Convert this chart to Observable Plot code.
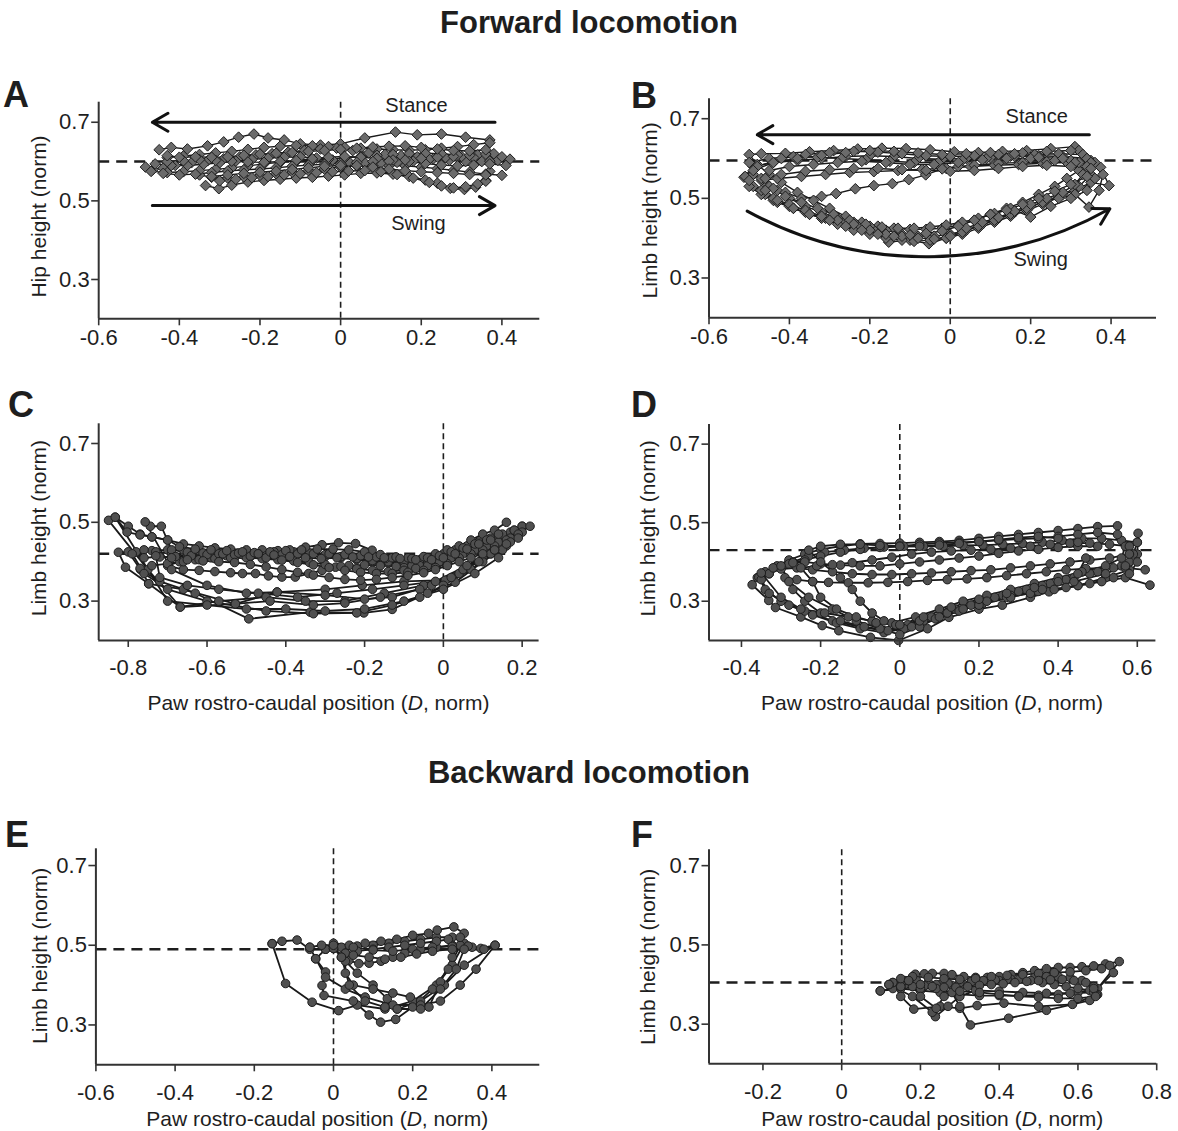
<!DOCTYPE html>
<html><head><meta charset="utf-8">
<script src="https://cdn.jsdelivr.net/npm/d3@7"></script>
<script src="https://cdn.jsdelivr.net/npm/@observablehq/plot@0.6"></script>
<style>
body{margin:0;background:#fff;}
#page{position:relative;width:1178px;height:1131px;overflow:hidden;font-family:Arial,"Liberation Sans",Helvetica,sans-serif;color:#1e1e1e;}
.title{position:absolute;left:0;width:1178px;text-align:center;font-weight:bold;font-size:31px;line-height:31px;}
.letter{position:absolute;font-weight:bold;font-size:36px;line-height:36px;}
.panel{position:absolute;}
</style></head><body>
<div id="page">
<div class="title" style="top:7px">Forward locomotion</div>
<div class="title" style="top:757px">Backward locomotion</div>
</div>
<script>
// ---------- DATA ----------
// each trace: flat list x0,y0,x1,y1,...
const tracesA = [
 [0.37,0.655,0.31,0.662,0.25,0.67,0.19,0.668,0.136,0.675,0.06,0.66,0.0,0.645,-0.05,0.642,-0.1,0.645,-0.14,0.655,-0.18,0.66,-0.215,0.67,-0.253,0.662,-0.29,0.65,-0.33,0.64,-0.38,0.632,-0.42,0.636,-0.45,0.63],
 [-0.484,0.586,-0.465,0.58,-0.44,0.583,-0.41,0.59,-0.37,0.597,-0.33,0.602,-0.29,0.607,-0.25,0.612,-0.21,0.617,-0.17,0.62,-0.13,0.624,-0.09,0.628,-0.05,0.632,-0.01,0.634,0.03,0.628,0.07,0.622,0.11,0.618,0.15,0.615,0.19,0.612,0.23,0.607,0.27,0.603,0.31,0.6,0.35,0.6,0.39,0.603,0.42,0.606],
 [-0.335,0.539,-0.302,0.531,-0.27,0.54,-0.23,0.548,-0.19,0.552,-0.15,0.555,-0.11,0.558,-0.07,0.56,-0.03,0.563,0.01,0.566,0.05,0.57,0.09,0.571,0.13,0.568,0.17,0.562,0.21,0.553,0.24,0.545,0.272,0.532,0.307,0.529,0.335,0.535,0.36,0.552,0.37,0.575],
 [0.4,0.565,0.36,0.568,0.32,0.573,0.28,0.578,0.24,0.582,0.2,0.586,0.16,0.589,0.12,0.59,0.08,0.59,0.04,0.589,0.0,0.586,-0.04,0.581,-0.08,0.577,-0.12,0.573,-0.16,0.569,-0.2,0.565,-0.24,0.561,-0.28,0.558,-0.32,0.56,-0.35,0.566],
 [-0.43,0.61,-0.39,0.614,-0.35,0.618,-0.31,0.622,-0.27,0.626,-0.23,0.631,-0.19,0.636,-0.15,0.639,-0.11,0.641,-0.07,0.64,-0.03,0.638,0.01,0.636,0.05,0.634,0.09,0.632,0.13,0.63,0.17,0.629,0.21,0.63,0.25,0.634,0.29,0.638,0.33,0.643,0.37,0.648],
 [0.38,0.62,0.34,0.617,0.3,0.613,0.26,0.61,0.22,0.606,0.18,0.601,0.14,0.598,0.1,0.596,0.06,0.597,0.02,0.6,-0.02,0.604,-0.06,0.609,-0.1,0.612,-0.14,0.611,-0.18,0.609,-0.22,0.605,-0.26,0.601,-0.3,0.597,-0.34,0.593,-0.38,0.59,-0.42,0.59,-0.46,0.594],
 [-0.47,0.575,-0.43,0.572,-0.39,0.574,-0.35,0.577,-0.31,0.58,-0.27,0.584,-0.23,0.589,-0.19,0.594,-0.15,0.598,-0.11,0.601,-0.07,0.603,-0.03,0.606,0.01,0.609,0.05,0.613,0.09,0.616,0.13,0.618,0.17,0.62,0.21,0.621,0.25,0.62,0.29,0.617,0.33,0.61,0.37,0.601],
 [-0.3,0.551,-0.26,0.555,-0.22,0.559,-0.18,0.562,-0.14,0.566,-0.1,0.569,-0.06,0.572,-0.02,0.574,0.02,0.576,0.06,0.577,0.1,0.574,0.14,0.567,0.18,0.558,0.22,0.547,0.25,0.538,0.28,0.533,0.31,0.536,0.34,0.543,0.36,0.55],
 [0.41,0.59,0.37,0.594,0.33,0.591,0.29,0.589,0.25,0.591,0.21,0.595,0.17,0.6,0.13,0.604,0.09,0.608,0.05,0.611,0.01,0.613,-0.03,0.611,-0.07,0.607,-0.11,0.603,-0.15,0.6,-0.19,0.598,-0.23,0.599,-0.27,0.601,-0.31,0.603,-0.35,0.605,-0.39,0.602,-0.43,0.6],
 [-0.44,0.57,-0.4,0.566,-0.36,0.568,-0.32,0.572,-0.28,0.576,-0.24,0.579,-0.2,0.581,-0.16,0.584,-0.12,0.588,-0.08,0.591,-0.04,0.593,0.0,0.595,0.04,0.598,0.08,0.6,0.12,0.601,0.16,0.604,0.2,0.608,0.24,0.611,0.28,0.613,0.32,0.616,0.36,0.619,0.4,0.612],
 [0.36,0.63,0.32,0.627,0.28,0.628,0.24,0.632,0.2,0.636,0.16,0.64,0.12,0.639,0.08,0.637,0.04,0.634,0.0,0.631,-0.04,0.628,-0.08,0.626,-0.12,0.623,-0.16,0.621,-0.2,0.619,-0.24,0.616,-0.28,0.612,-0.32,0.611,-0.36,0.612,-0.4,0.611,-0.43,0.615],
 [-0.32,0.562,-0.28,0.566,-0.24,0.57,-0.2,0.573,-0.16,0.576,-0.12,0.58,-0.08,0.584,-0.04,0.588,0.0,0.59,0.04,0.59,0.08,0.586,0.12,0.581,0.16,0.577,0.2,0.574,0.24,0.572,0.28,0.57,0.32,0.567,0.36,0.566]
];
const tracesB = [
 [0.31,0.63,0.25,0.625,0.19,0.62,0.13,0.618,0.07,0.615,0.01,0.617,-0.05,0.622,-0.11,0.625,-0.17,0.626,-0.23,0.624,-0.29,0.62,-0.35,0.617,-0.41,0.613,-0.47,0.612,-0.5,0.61,-0.48,0.585,-0.45,0.56,-0.42,0.54,-0.38,0.515,-0.34,0.495,-0.3,0.475,-0.26,0.455,-0.22,0.44,-0.18,0.43,-0.14,0.425,-0.1,0.422,-0.06,0.422,-0.02,0.425,0.02,0.432,0.06,0.445,0.1,0.46,0.14,0.475,0.18,0.49,0.22,0.51,0.26,0.53,0.29,0.55,0.32,0.57,0.33,0.6,0.32,0.62],
 [0.34,0.6,0.28,0.605,0.22,0.607,0.16,0.605,0.1,0.602,0.04,0.6,-0.02,0.598,-0.08,0.6,-0.14,0.605,-0.2,0.607,-0.26,0.605,-0.32,0.6,-0.38,0.595,-0.44,0.59,-0.49,0.58,-0.513,0.553,-0.49,0.53,-0.46,0.51,-0.43,0.49,-0.39,0.475,-0.35,0.46,-0.31,0.45,-0.27,0.44,-0.23,0.43,-0.19,0.42,-0.153,0.39,-0.1,0.395,-0.053,0.386,-0.01,0.4,0.03,0.41,0.07,0.425,0.11,0.44,0.15,0.455,0.19,0.47,0.23,0.485,0.27,0.505,0.31,0.52,0.35,0.54,0.395,0.532,0.374,0.578,0.35,0.595],
 [0.33,0.61,0.27,0.612,0.21,0.61,0.15,0.606,0.09,0.6,0.03,0.595,-0.03,0.59,-0.09,0.59,-0.15,0.593,-0.21,0.597,-0.27,0.6,-0.33,0.603,-0.39,0.605,-0.45,0.6,-0.5,0.59,-0.49,0.56,-0.46,0.54,-0.43,0.52,-0.4,0.5,-0.36,0.48,-0.32,0.465,-0.28,0.45,-0.24,0.44,-0.2,0.43,-0.16,0.42,-0.12,0.41,-0.08,0.405,-0.04,0.405,0.0,0.41,0.04,0.42,0.08,0.435,0.12,0.45,0.16,0.465,0.2,0.48,0.24,0.495,0.28,0.51,0.32,0.53,0.35,0.56,0.36,0.59],
 [0.35,0.59,0.29,0.59,0.23,0.588,0.17,0.585,0.11,0.583,0.05,0.58,-0.01,0.575,-0.07,0.573,-0.13,0.57,-0.19,0.567,-0.25,0.565,-0.31,0.56,-0.37,0.555,-0.43,0.55,-0.47,0.545,-0.45,0.53,-0.41,0.515,-0.37,0.5,-0.32,0.505,-0.284,0.512,-0.236,0.524,-0.19,0.532,-0.144,0.537,-0.103,0.547,-0.061,0.559,-0.02,0.574,0.02,0.58,0.06,0.583,0.12,0.588,0.18,0.59,0.24,0.592,0.3,0.595,0.34,0.6],
 [0.3,0.62,0.24,0.618,0.18,0.614,0.12,0.61,0.06,0.607,0.0,0.605,-0.06,0.607,-0.12,0.612,-0.18,0.616,-0.24,0.618,-0.3,0.615,-0.36,0.61,-0.42,0.6,-0.48,0.58,-0.51,0.555,-0.5,0.53,-0.47,0.51,-0.44,0.495,-0.4,0.48,-0.36,0.465,-0.32,0.45,-0.28,0.435,-0.24,0.42,-0.2,0.41,-0.16,0.4,-0.12,0.395,-0.09,0.392,-0.05,0.395,-0.01,0.4,0.03,0.415,0.07,0.43,0.11,0.445,0.15,0.46,0.19,0.475,0.23,0.49,0.27,0.5,0.31,0.51,0.345,0.478,0.37,0.52,0.38,0.56,0.35,0.59],
 [0.32,0.59,0.26,0.595,0.2,0.6,0.14,0.6,0.08,0.597,0.02,0.59,-0.04,0.585,-0.1,0.585,-0.16,0.59,-0.22,0.593,-0.28,0.59,-0.34,0.585,-0.4,0.58,-0.45,0.57,-0.47,0.55,-0.44,0.525,-0.41,0.505,-0.37,0.49,-0.33,0.475,-0.29,0.46,-0.25,0.445,-0.21,0.435,-0.17,0.428,-0.13,0.425,-0.09,0.425,-0.05,0.428,-0.01,0.433,0.03,0.44,0.07,0.45,0.11,0.462,0.15,0.475,0.2,0.453,0.25,0.48,0.3,0.5,0.34,0.52,0.36,0.55,0.34,0.58],
 [0.28,0.6,0.22,0.603,0.16,0.612,0.1,0.615,0.04,0.612,-0.02,0.61,-0.08,0.614,-0.14,0.618,-0.2,0.62,-0.26,0.615,-0.32,0.608,-0.38,0.6,-0.44,0.59,-0.49,0.57,-0.5,0.545,-0.47,0.52,-0.44,0.5,-0.4,0.485,-0.36,0.47,-0.32,0.455,-0.28,0.445,-0.24,0.435,-0.2,0.42,-0.16,0.41,-0.12,0.405,-0.08,0.4,-0.04,0.398,0.0,0.405,0.04,0.425,0.08,0.44,0.12,0.452,0.16,0.468,0.2,0.485,0.24,0.5,0.28,0.515,0.31,0.535,0.33,0.56,0.31,0.59],
 [0.35,0.575,0.3,0.58,0.24,0.583,0.18,0.58,0.12,0.575,0.06,0.57,0.0,0.568,-0.06,0.57,-0.12,0.572,-0.18,0.575,-0.24,0.575,-0.3,0.572,-0.36,0.568,-0.42,0.56,-0.46,0.55,-0.46,0.52,-0.43,0.495,-0.39,0.475,-0.35,0.46,-0.3,0.445,-0.26,0.43,-0.22,0.42,-0.18,0.41,-0.14,0.405,-0.1,0.408,-0.06,0.412,-0.02,0.418,0.02,0.43,0.06,0.445,0.1,0.46,0.14,0.47,0.18,0.485,0.22,0.5,0.26,0.518,0.3,0.535,0.34,0.555]
];
const tracesC = [
 [0.2,0.49,0.17,0.475,0.14,0.46,0.11,0.45,0.08,0.44,0.05,0.43,0.02,0.42,-0.01,0.41,-0.04,0.405,-0.07,0.4,-0.1,0.397,-0.14,0.397,-0.18,0.4,-0.22,0.405,-0.26,0.41,-0.3,0.413,-0.34,0.415,-0.38,0.418,-0.42,0.42,-0.46,0.422,-0.5,0.424,-0.54,0.425,-0.58,0.427,-0.62,0.428,-0.66,0.43,-0.7,0.43,-0.74,0.428,-0.78,0.425,-0.825,0.424,-0.807,0.386,-0.748,0.344,-0.668,0.285,-0.528,0.293,-0.422,0.323,-0.3,0.33,-0.206,0.34,-0.1,0.35,0.005,0.353,0.1,0.41,0.2,0.49],
 [0.18,0.48,0.15,0.47,0.12,0.46,0.09,0.45,0.06,0.44,0.03,0.43,0.0,0.42,-0.03,0.41,-0.06,0.405,-0.1,0.4,-0.14,0.4,-0.18,0.403,-0.22,0.408,-0.26,0.413,-0.3,0.418,-0.34,0.422,-0.38,0.425,-0.42,0.428,-0.46,0.43,-0.5,0.43,-0.54,0.432,-0.58,0.435,-0.62,0.44,-0.66,0.445,-0.7,0.455,-0.74,0.463,-0.77,0.47,-0.8,0.49,-0.833,0.513,-0.85,0.505,-0.75,0.38,-0.668,0.285,-0.57,0.3,-0.45,0.31,-0.35,0.3,-0.25,0.3,-0.15,0.32,-0.05,0.34,0.04,0.37,0.12,0.43,0.18,0.48],
 [0.1,0.44,0.06,0.425,0.02,0.41,-0.02,0.4,-0.06,0.39,-0.1,0.385,-0.147,0.408,-0.181,0.429,-0.223,0.446,-0.266,0.448,-0.308,0.443,-0.35,0.437,-0.39,0.43,-0.43,0.425,-0.47,0.42,-0.51,0.418,-0.55,0.415,-0.59,0.41,-0.63,0.405,-0.67,0.4,-0.7,0.39,-0.66,0.38,-0.62,0.378,-0.58,0.375,-0.54,0.372,-0.51,0.37,-0.477,0.37,-0.444,0.364,-0.41,0.361,-0.376,0.361,-0.342,0.37,-0.308,0.378,-0.274,0.386,-0.24,0.39,-0.2,0.392,-0.16,0.39,-0.12,0.388,-0.08,0.39,-0.04,0.395,0.0,0.4,0.04,0.415,0.08,0.43,0.12,0.445],
 [0.16,0.5,0.13,0.48,0.1,0.47,0.07,0.455,0.04,0.44,0.01,0.43,-0.02,0.42,-0.05,0.413,-0.09,0.41,-0.13,0.41,-0.17,0.412,-0.21,0.415,-0.25,0.418,-0.29,0.42,-0.33,0.42,-0.37,0.42,-0.41,0.418,-0.45,0.415,-0.49,0.413,-0.53,0.41,-0.57,0.41,-0.61,0.412,-0.65,0.415,-0.69,0.42,-0.73,0.425,-0.76,0.43,-0.8,0.425,-0.769,0.38,-0.72,0.35,-0.63,0.32,-0.494,0.255,-0.338,0.272,-0.202,0.27,-0.13,0.279,-0.04,0.32,0.03,0.348,0.1,0.4,0.16,0.44],
 [0.2,0.475,0.17,0.46,0.14,0.45,0.11,0.44,0.08,0.43,0.05,0.42,0.02,0.41,-0.01,0.4,-0.04,0.39,-0.07,0.383,-0.1,0.378,-0.14,0.375,-0.18,0.378,-0.22,0.382,-0.26,0.388,-0.3,0.393,-0.34,0.398,-0.38,0.402,-0.42,0.405,-0.46,0.408,-0.5,0.41,-0.54,0.41,-0.58,0.408,-0.62,0.405,-0.66,0.4,-0.7,0.395,-0.74,0.39,-0.77,0.383,-0.748,0.344,-0.66,0.33,-0.528,0.293,-0.44,0.3,-0.33,0.29,-0.25,0.295,-0.16,0.31,-0.06,0.33,0.02,0.36,0.09,0.4,0.15,0.43],
 [0.22,0.49,0.19,0.47,0.16,0.455,0.13,0.44,0.1,0.43,0.07,0.42,0.04,0.41,0.01,0.395,-0.02,0.385,-0.05,0.378,-0.09,0.373,-0.13,0.37,-0.17,0.37,-0.21,0.373,-0.25,0.378,-0.29,0.385,-0.33,0.392,-0.37,0.398,-0.41,0.404,-0.45,0.41,-0.49,0.414,-0.53,0.418,-0.57,0.42,-0.61,0.422,-0.65,0.424,-0.69,0.43,-0.716,0.49,-0.744,0.49,-0.757,0.501,-0.69,0.38,-0.6,0.34,-0.5,0.32,-0.422,0.323,-0.3,0.315,-0.2,0.305,-0.13,0.31,-0.03,0.34,0.05,0.38,0.12,0.42,0.17,0.45],
 [0.14,0.47,0.11,0.455,0.08,0.445,0.05,0.435,0.02,0.425,-0.01,0.415,-0.04,0.41,-0.08,0.408,-0.12,0.412,-0.16,0.418,-0.2,0.425,-0.24,0.43,-0.28,0.432,-0.32,0.432,-0.36,0.43,-0.4,0.428,-0.44,0.425,-0.48,0.423,-0.52,0.422,-0.56,0.42,-0.6,0.418,-0.64,0.415,-0.68,0.413,-0.72,0.412,-0.76,0.41,-0.79,0.42,-0.76,0.37,-0.7,0.33,-0.6,0.3,-0.45,0.275,-0.33,0.268,-0.22,0.27,-0.13,0.29,-0.06,0.31,0.0,0.34,0.07,0.38,0.12,0.42],
 [0.19,0.46,0.16,0.445,0.13,0.43,0.1,0.42,0.07,0.41,0.04,0.4,0.01,0.39,-0.02,0.38,-0.05,0.372,-0.09,0.365,-0.13,0.36,-0.17,0.355,-0.21,0.353,-0.25,0.355,-0.29,0.36,-0.33,0.366,-0.37,0.373,-0.41,0.38,-0.45,0.387,-0.49,0.393,-0.53,0.398,-0.57,0.4,-0.61,0.402,-0.65,0.405,-0.69,0.41,-0.73,0.415,-0.72,0.36,-0.65,0.34,-0.57,0.33,-0.47,0.32,-0.37,0.31,-0.27,0.32,-0.18,0.33,-0.1,0.34,-0.02,0.35,0.06,0.39,0.13,0.43],
 [0.12,0.455,0.09,0.445,0.06,0.432,0.03,0.42,0.0,0.41,-0.03,0.405,-0.07,0.405,-0.11,0.408,-0.15,0.41,-0.19,0.412,-0.23,0.412,-0.27,0.41,-0.31,0.408,-0.35,0.41,-0.39,0.413,-0.43,0.417,-0.47,0.42,-0.51,0.425,-0.55,0.428,-0.59,0.43,-0.63,0.432,-0.67,0.438,-0.7,0.455,-0.74,0.463,-0.77,0.468,-0.803,0.475,-0.833,0.513,-0.7,0.3,-0.6,0.29,-0.5,0.28,-0.4,0.28,-0.3,0.275,-0.2,0.28,-0.1,0.3,0.0,0.33,0.08,0.37,0.14,0.41]
];
const tracesD = [
 [0.55,0.492,0.5,0.49,0.45,0.485,0.4,0.48,0.35,0.475,0.3,0.47,0.25,0.465,0.2,0.46,0.15,0.455,0.1,0.452,0.05,0.45,0.0,0.448,-0.05,0.447,-0.1,0.446,-0.15,0.44,-0.2,0.432,-0.24,0.42,-0.28,0.405,-0.31,0.39,-0.34,0.375,-0.36,0.36,-0.373,0.342,-0.331,0.302,-0.314,0.284,-0.25,0.26,-0.196,0.238,-0.154,0.225,-0.074,0.208,-0.003,0.2,0.07,0.23,0.124,0.259,0.2,0.28,0.259,0.29,0.33,0.31,0.377,0.324,0.45,0.34,0.52,0.36,0.58,0.38,0.6,0.42,0.602,0.473],
 [0.6,0.45,0.56,0.455,0.51,0.46,0.46,0.46,0.41,0.455,0.36,0.45,0.31,0.447,0.26,0.445,0.21,0.443,0.16,0.442,0.11,0.44,0.06,0.44,0.01,0.44,-0.04,0.438,-0.09,0.435,-0.14,0.43,-0.19,0.425,-0.23,0.415,-0.27,0.4,-0.3,0.385,-0.33,0.37,-0.356,0.361,-0.34,0.33,-0.3,0.3,-0.24,0.275,-0.17,0.25,-0.1,0.235,-0.04,0.225,0.02,0.24,0.08,0.26,0.14,0.28,0.2,0.3,0.26,0.315,0.32,0.33,0.38,0.345,0.44,0.36,0.5,0.375,0.56,0.39,0.59,0.42,0.6,0.45],
 [0.58,0.42,0.53,0.41,0.48,0.405,0.43,0.4,0.38,0.395,0.33,0.39,0.28,0.385,0.23,0.38,0.18,0.378,0.13,0.375,0.08,0.372,0.03,0.37,-0.02,0.368,-0.07,0.368,-0.12,0.37,-0.17,0.375,-0.22,0.38,-0.26,0.385,-0.3,0.382,-0.33,0.37,-0.35,0.355,-0.33,0.32,-0.28,0.29,-0.22,0.265,-0.16,0.245,-0.1,0.23,-0.04,0.22,0.01,0.23,0.06,0.25,0.12,0.27,0.18,0.29,0.24,0.31,0.3,0.325,0.36,0.34,0.42,0.355,0.48,0.37,0.54,0.385,0.58,0.4],
 [0.62,0.38,0.57,0.385,0.52,0.385,0.47,0.383,0.42,0.38,0.37,0.375,0.32,0.37,0.27,0.365,0.22,0.36,0.17,0.357,0.12,0.355,0.07,0.353,0.02,0.35,-0.03,0.348,-0.08,0.347,-0.13,0.347,-0.18,0.348,-0.22,0.35,-0.26,0.355,-0.29,0.36,-0.27,0.33,-0.24,0.3,-0.2,0.27,-0.15,0.25,-0.09,0.235,-0.03,0.225,0.03,0.235,0.09,0.255,0.15,0.275,0.21,0.295,0.27,0.31,0.33,0.32,0.39,0.33,0.45,0.34,0.51,0.35,0.57,0.36,0.632,0.341],
 [0.55,0.47,0.5,0.475,0.45,0.47,0.4,0.465,0.35,0.46,0.3,0.458,0.25,0.455,0.2,0.452,0.15,0.45,0.1,0.448,0.05,0.445,0.0,0.44,-0.05,0.437,-0.1,0.432,-0.15,0.425,-0.2,0.415,-0.24,0.405,-0.28,0.395,-0.32,0.385,-0.35,0.372,-0.3,0.31,-0.25,0.28,-0.19,0.27,-0.13,0.26,-0.07,0.25,-0.02,0.245,0.04,0.26,0.1,0.28,0.16,0.3,0.22,0.315,0.28,0.33,0.34,0.345,0.4,0.36,0.46,0.375,0.52,0.39,0.56,0.41,0.57,0.44],
 [0.5,0.44,0.45,0.44,0.4,0.437,0.35,0.432,0.3,0.428,0.25,0.422,0.2,0.415,0.15,0.41,0.1,0.405,0.05,0.4,0.0,0.395,-0.05,0.39,-0.1,0.39,-0.15,0.392,-0.2,0.395,-0.24,0.4,-0.27,0.398,-0.3,0.39,-0.28,0.35,-0.23,0.31,-0.17,0.28,-0.11,0.25,-0.05,0.23,0.0,0.215,0.05,0.235,0.1,0.26,0.16,0.28,0.22,0.3,0.28,0.315,0.35,0.325,0.42,0.335,0.48,0.345,0.54,0.36,0.58,0.37,0.6,0.4],
 [0.58,0.44,0.53,0.445,0.48,0.448,0.43,0.448,0.38,0.445,0.33,0.44,0.28,0.435,0.23,0.432,0.18,0.43,0.13,0.428,0.08,0.425,0.03,0.42,-0.02,0.412,-0.07,0.405,-0.12,0.398,-0.17,0.393,-0.21,0.39,-0.25,0.385,-0.22,0.35,-0.2,0.31,-0.16,0.28,-0.11,0.26,-0.06,0.245,-0.01,0.24,0.05,0.25,0.12,0.27,0.2,0.29,0.28,0.31,0.36,0.33,0.44,0.35,0.52,0.37,0.57,0.39,0.58,0.42],
 [0.45,0.45,0.4,0.46,0.35,0.465,0.3,0.462,0.25,0.457,0.2,0.452,0.15,0.447,0.1,0.443,0.05,0.44,0.0,0.44,-0.05,0.442,-0.1,0.445,-0.15,0.445,-0.2,0.44,-0.23,0.43,-0.2,0.4,-0.15,0.36,-0.12,0.33,-0.1,0.3,-0.07,0.27,-0.04,0.25,0.0,0.24,0.06,0.26,0.13,0.285,0.2,0.305,0.27,0.32,0.34,0.335,0.4,0.35,0.45,0.37,0.47,0.41]
];
const tracesE = [
 [-0.155,0.504,-0.13,0.51,-0.092,0.513,-0.06,0.49,-0.02,0.49,0.02,0.495,0.06,0.498,0.1,0.5,0.14,0.505,0.18,0.51,0.22,0.515,0.26,0.52,0.3,0.52,0.33,0.505,0.3,0.45,0.26,0.4,0.2,0.36,0.13,0.34,0.06,0.35,0.013,0.336,-0.054,0.357,-0.121,0.404,-0.155,0.504],
 [-0.045,0.466,-0.02,0.49,0.0,0.505,0.04,0.5,0.08,0.505,0.12,0.51,0.16,0.515,0.2,0.525,0.24,0.53,0.262,0.538,0.304,0.546,0.33,0.53,0.32,0.5,0.29,0.44,0.25,0.39,0.2,0.345,0.157,0.314,0.119,0.307,0.09,0.325,0.05,0.36,-0.024,0.374,-0.029,0.399,-0.02,0.433,-0.045,0.466],
 [0.0,0.492,0.039,0.462,0.064,0.454,0.09,0.455,0.12,0.46,0.15,0.47,0.18,0.48,0.22,0.49,0.26,0.495,0.3,0.5,0.35,0.495,0.372,0.492,0.408,0.5,0.33,0.45,0.28,0.4,0.22,0.36,0.161,0.34,0.136,0.366,0.1,0.4,0.06,0.43,0.03,0.46,0.0,0.492],
 [0.03,0.48,0.06,0.485,0.1,0.49,0.14,0.495,0.18,0.5,0.22,0.505,0.26,0.51,0.29,0.515,0.32,0.52,0.3,0.47,0.27,0.408,0.241,0.345,0.194,0.37,0.15,0.38,0.1,0.39,0.05,0.4,0.03,0.43,0.03,0.48],
 [-0.06,0.495,-0.03,0.5,0.0,0.5,0.05,0.495,0.1,0.488,0.15,0.485,0.2,0.49,0.25,0.495,0.3,0.497,0.34,0.498,0.38,0.49,0.408,0.5,0.36,0.44,0.32,0.4,0.27,0.36,0.22,0.35,0.15,0.35,0.08,0.37,0.03,0.39,-0.02,0.42,-0.06,0.495],
 [0.02,0.47,0.05,0.475,0.09,0.47,0.13,0.465,0.17,0.47,0.21,0.478,0.25,0.485,0.3,0.49,0.33,0.49,0.31,0.44,0.27,0.39,0.22,0.34,0.161,0.34,0.13,0.345,0.08,0.36,0.04,0.4,0.02,0.47]
];
const tracesF = [
 [0.098,0.384,0.13,0.39,0.16,0.4,0.187,0.426,0.21,0.427,0.23,0.428,0.26,0.428,0.28,0.425,0.31,0.42,0.34,0.418,0.37,0.418,0.4,0.42,0.43,0.425,0.46,0.43,0.49,0.435,0.52,0.44,0.55,0.443,0.58,0.443,0.61,0.445,0.64,0.447,0.67,0.452,0.705,0.458,0.65,0.39,0.6,0.38,0.55,0.375,0.5,0.373,0.45,0.372,0.4,0.372,0.35,0.372,0.3,0.375,0.25,0.38,0.2,0.385,0.15,0.39,0.098,0.384],
 [0.13,0.405,0.16,0.41,0.19,0.41,0.22,0.405,0.25,0.4,0.28,0.398,0.31,0.4,0.34,0.405,0.37,0.408,0.4,0.41,0.43,0.413,0.46,0.415,0.49,0.418,0.52,0.42,0.55,0.42,0.58,0.418,0.61,0.41,0.64,0.395,0.65,0.375,0.586,0.35,0.5,0.345,0.412,0.353,0.344,0.347,0.3,0.34,0.25,0.345,0.183,0.338,0.15,0.37,0.13,0.405],
 [0.15,0.395,0.18,0.395,0.21,0.397,0.24,0.4,0.27,0.403,0.3,0.405,0.33,0.408,0.36,0.41,0.39,0.412,0.42,0.413,0.45,0.413,0.48,0.41,0.51,0.405,0.54,0.4,0.57,0.395,0.6,0.39,0.63,0.385,0.647,0.374,0.63,0.36,0.52,0.335,0.424,0.315,0.327,0.298,0.3,0.345,0.28,0.38,0.24,0.39,0.2,0.39,0.15,0.395],
 [0.12,0.4,0.15,0.415,0.18,0.42,0.22,0.418,0.26,0.415,0.3,0.413,0.34,0.415,0.38,0.42,0.42,0.423,0.46,0.425,0.5,0.428,0.54,0.43,0.58,0.432,0.62,0.435,0.66,0.44,0.681,0.448,0.69,0.43,0.64,0.38,0.58,0.378,0.52,0.378,0.46,0.38,0.4,0.383,0.34,0.385,0.3,0.37,0.27,0.345,0.238,0.319,0.23,0.33,0.18,0.37,0.12,0.4],
 [0.17,0.41,0.2,0.4,0.23,0.395,0.26,0.393,0.29,0.393,0.32,0.395,0.35,0.398,0.38,0.4,0.41,0.402,0.44,0.405,0.47,0.408,0.5,0.41,0.53,0.412,0.56,0.413,0.59,0.41,0.62,0.405,0.64,0.39,0.645,0.37,0.6,0.365,0.55,0.365,0.5,0.368,0.45,0.37,0.4,0.375,0.35,0.38,0.3,0.383,0.26,0.37,0.24,0.34,0.2,0.37,0.17,0.41]
];
// reference levels (dashed lines)
const hRef = [0.6, 0.595, 0.42, 0.43, 0.49, 0.405];
// tick values
const ticksX_AB = [-0.6,-0.4,-0.2,0,0.2,0.4];
const ticksX_C = [-0.8,-0.6,-0.4,-0.2,0,0.2];
const ticksX_D = [-0.4,-0.2,0,0.2,0.4,0.6];
const ticksX_E = [-0.6,-0.4,-0.2,0,0.2,0.4];
const ticksX_F = [-0.2,0,0.2,0.4,0.6,0.8];
const ticksY = [0.3,0.5,0.7];
// annotations
const arrowsA = [{x1:0.383,y1:0.7,x2:-0.467,y2:0.7},{x1:-0.467,y1:0.488,x2:0.383,y2:0.488}];
const arrowB_stance = [{x1:0.346,y1:0.66,x2:-0.48,y2:0.66}];
const arrowB_swing = [{x1:-0.505,y1:0.468,x2:0.397,y2:0.474}];
const notesA = [{x:0.188,y:0.742,t:"Stance"},{x:0.193,y:0.443,t:"Swing"}];
const notesB = [{x:0.215,y:0.706,t:"Stance"},{x:0.225,y:0.345,t:"Swing"}];

// ---------- RENDER ----------
const FONT = "Arial, 'Liberation Sans', Helvetica, sans-serif";
const INK = "#1e1e1e";
const fmt = d => String(d);
function toRows(traces){
  const out=[];
  traces.forEach((t,i)=>{ for(let j=0;j<t.length;j+=2) out.push({x:t[j],y:t[j+1],trace:i}); });
  return out;
}
const panels = [
 {letter:"A", lt:[3,77], traces:tracesA, box:[0,80,570,290], frame:[98.2,539.3,101.7,318.3], xd:[-0.6,0.494], yd:[0.2,0.751], xt:ticksX_AB, href:hRef[0], sym:"diamond2", ylab:"Hip height (norm)", yl:[-59,6], xlab:null, pad:4, extra:"A"},
 {letter:"B", lt:[631,78], traces:tracesB, box:[590,80,588,290], frame:[708.5,1156,98.3,317.3], xd:[-0.6,0.513], yd:[0.2,0.75], xt:ticksX_AB, href:hRef[1], sym:"diamond2", ylab:"Limb height (norm)", yl:[-58.5,2], xlab:null, pad:4, extra:"B"},
 {letter:"C", lt:[8,387], traces:tracesC, box:[0,400,570,330], frame:[98.2,538.6,423.3,640], xd:[-0.875,0.243], yd:[0.2,0.75], xt:ticksX_C, href:hRef[2], sym:"circle", ylab:"Limb height (norm)", yl:[-59,-4], xlab:62, pad:12},
 {letter:"D", lt:[631,387], traces:tracesD, box:[590,400,588,330], frame:[708.5,1155.4,424,640], xd:[-0.482,0.647], yd:[0.2,0.75], xt:ticksX_D, href:hRef[3], sym:"circle", ylab:"Limb height (norm)", yl:[-60.5,-4], xlab:62, pad:12},
 {letter:"E", lt:[5,817], traces:tracesE, box:[0,830,570,301], frame:[95.4,539.3,848.3,1064.3], xd:[-0.6,0.521], yd:[0.2,0.742], xt:ticksX_E, href:hRef[4], sym:"circle", ylab:"Limb height (norm)", yl:[-56,-1], xlab:54, pad:13},
 {letter:"F", lt:[631,817], traces:tracesF, box:[590,830,588,301], frame:[708.5,1156.2,849.3,1063.3], xd:[-0.337,0.8], yd:[0.2,0.74], xt:ticksX_F, href:hRef[5], sym:"circle", ylab:"Limb height (norm)", yl:[-60.5,0], xlab:55, pad:13}
];
const page = document.getElementById("page");
for (const p of panels){
  const [bl,bt,bw,bh] = p.box, [fx0,fx1,fy0,fy1] = p.frame;
  const rows = toRows(p.traces);
  const diamond = p.sym === "diamond2";
  const marks = [
    Plot.ruleY([p.href], {stroke:INK, strokeWidth:2.4, strokeDasharray:"11,7"}),
    Plot.ruleX([0], {stroke:INK, strokeWidth:1.6, strokeDasharray:"6,4"}),
    Plot.line(rows, {x:"x", y:"y", z:"trace", stroke:"#1a1a1a", strokeWidth: diamond ? 1.4 : 1.8}),
    Plot.dot(rows, {x:"x", y:"y", symbol:p.sym, r: diamond ? 4.8 : 4.3, fill: diamond ? "#6b6b6b" : "#505050", stroke:"#1e1e1e", strokeWidth:1}),
    Plot.ruleY([p.yd[0]], {stroke:"#333", strokeWidth:2}),
    Plot.ruleX([p.xd[0]], {stroke:"#333", strokeWidth:2}),
    Plot.axisX({ticks:p.xt, tickFormat:fmt, tickSize:7, tickPadding:p.pad, label:null, fontSize:22, stroke:"#333", strokeWidth:1.6, fill:INK}),
    Plot.axisY({ticks:ticksY, tickFormat:fmt, tickSize:7, tickPadding:2, label:null, fontSize:22, stroke:"#333", strokeWidth:1.6, fill:INK}),
    Plot.text([p.ylab], {frameAnchor:"left", textAnchor:"middle", lineAnchor:"middle", text:d=>d, rotate:-90, dx:p.yl[0], dy:p.yl[1], fontSize:21, fill:INK})
  ];
  if (p.extra === "A"){
    marks.push(Plot.arrow(arrowsA, {x1:"x1", y1:"y1", x2:"x2", y2:"y2", stroke:"#111", strokeWidth:3, headLength:9, headAngle:60}));
    marks.push(Plot.text(notesA, {x:"x", y:"y", text:"t", fontSize:20, fill:INK}));
  }
  if (p.extra === "B"){
    marks.push(Plot.arrow(arrowB_stance, {x1:"x1", y1:"y1", x2:"x2", y2:"y2", stroke:"#111", strokeWidth:3, headLength:9, headAngle:60}));
    marks.push(Plot.arrow(arrowB_swing, {x1:"x1", y1:"y1", x2:"x2", y2:"y2", bend:-29, stroke:"#111", strokeWidth:3, headLength:9, headAngle:60}));
    marks.push(Plot.text(notesB, {x:"x", y:"y", text:"t", fontSize:20, fill:INK}));
  }
  const svg = Plot.plot({
    width:bw, height:bh,
    marginLeft: fx0-bl, marginRight: bl+bw-fx1, marginTop: fy0-bt, marginBottom: bt+bh-fy1,
    x:{domain:p.xd}, y:{domain:p.yd},
    style:{fontFamily:FONT, color:INK, background:"transparent", overflow:"visible"},
    marks
  });
  if (p.xlab !== null){
    const t = d3.select(svg).append("text")
      .attr("x", (fx0+fx1)/2 - bl).attr("y", fy1 - bt + p.xlab)
      .attr("text-anchor","middle").attr("dominant-baseline","central")
      .attr("font-size", 21).attr("fill", INK).attr("font-family", FONT);
    t.append("tspan").text("Paw rostro-caudal position (");
    t.append("tspan").attr("font-style","italic").text("D");
    t.append("tspan").text(", norm)");
  }
  const holder = document.createElement("div");
  holder.className = "panel";
  holder.style.left = bl+"px"; holder.style.top = bt+"px";
  holder.appendChild(svg);
  page.appendChild(holder);
  const L = document.createElement("div");
  L.className = "letter"; L.textContent = p.letter;
  L.style.left = p.lt[0]+"px"; L.style.top = p.lt[1]+"px";
  page.appendChild(L);
}
</script>
</body></html>
